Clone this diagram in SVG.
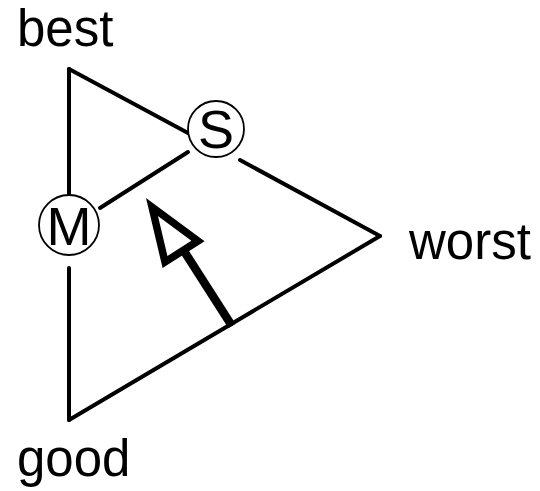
<svg xmlns="http://www.w3.org/2000/svg" width="540" height="491" viewBox="0 0 540 491">
<style>
.ln{stroke:#000;stroke-width:4;fill:none;stroke-linecap:round}
.lbl{font-family:"Liberation Sans",Arial,sans-serif;font-size:51px;fill:#000}
.node circle{fill:#fff;stroke:#000;stroke-width:1.8}
.node text{font-family:"Liberation Sans",Arial,sans-serif;font-size:54px;fill:#000;text-anchor:middle}
</style>
<rect width="540" height="491" fill="#fff"/>
<g id="labels">
<text class="lbl" x="17" y="46">best</text>
<text class="lbl" x="409" y="259">worst</text>
<text class="lbl" x="17" y="476">good</text>
</g>
<g id="connectors">
<line class="ln" x1="69" y1="69" x2="188" y2="133"/>
<line class="ln" x1="240" y1="160" x2="380" y2="236"/>
<line class="ln" x1="380" y1="236" x2="69" y2="420"/>
<line class="ln" x1="69" y1="69" x2="69" y2="202"/>
<line class="ln" x1="69" y1="268" x2="69" y2="420"/>
<line class="ln" x1="100" y1="208" x2="188" y2="152"/>
<g id="arrow">
<line x1="232" y1="326" x2="184" y2="251" stroke="#000" stroke-width="8.5"/>
<polygon points="152,207 165,262 198,241" fill="#fff" stroke="#000" stroke-width="7.5" stroke-miterlimit="6"/>
</g>
</g>
<g id="node-S" class="node">
<circle cx="216" cy="129" r="28"/>
<text x="216" y="148">S</text>
</g>
<g id="node-M" class="node">
<circle cx="69" cy="225" r="30"/>
<text x="69" y="245">M</text>
</g>
</svg>
